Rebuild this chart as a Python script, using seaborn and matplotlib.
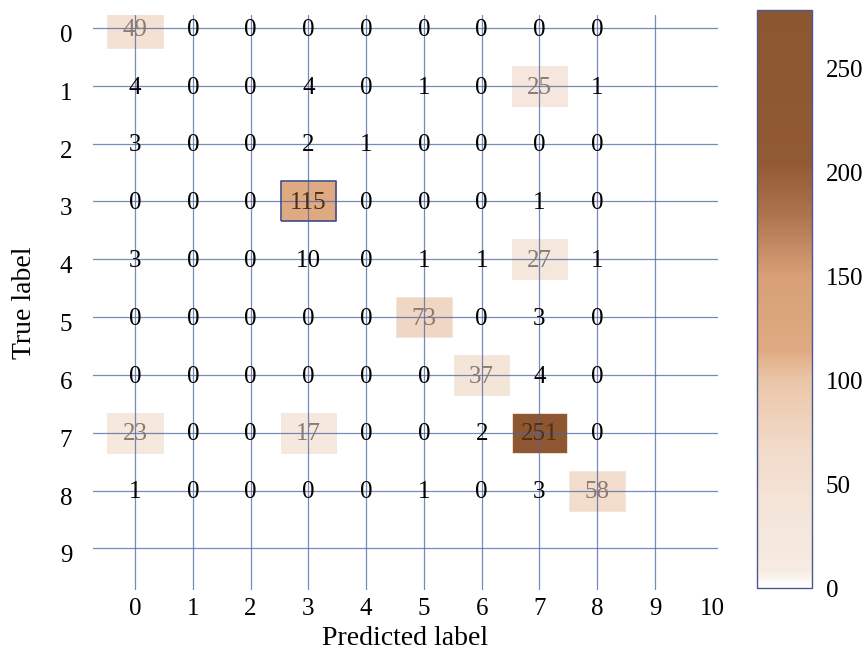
import numpy as np
import pandas as pd
import matplotlib
matplotlib.use("Agg")
import matplotlib.pyplot as plt
import matplotlib.transforms as mtransforms
import seaborn as sns
from matplotlib.colors import LinearSegmentedColormap, Normalize
from matplotlib.cm import ScalarMappable

# ---- data ----
true_labels = [0, 1, 2, 3, 4, 5, 6, 7, 8]
pred_labels = [0, 1, 2, 3, 4, 5, 6, 7, 8]
row0 = [49, 0, 0, 0, 0, 0, 0, 0, 0]
row1 = [4, 0, 0, 4, 0, 1, 0, 25, 1]
row2 = [3, 0, 0, 2, 1, 0, 0, 0, 0]
row3 = [0, 0, 0, 115, 0, 0, 0, 1, 0]
row4 = [3, 0, 0, 10, 0, 1, 1, 27, 1]
row5 = [0, 0, 0, 0, 0, 73, 0, 3, 0]
row6 = [0, 0, 0, 0, 0, 0, 37, 4, 0]
row7 = [23, 0, 0, 17, 0, 0, 2, 251, 0]
row8 = [1, 0, 0, 0, 0, 1, 0, 3, 58]
x_ticks = [0, 1, 2, 3, 4, 5, 6, 7, 8, 9, 10]
y_ticks = [0, 1, 2, 3, 4, 5, 6, 7, 8, 9]
cbar_ticks = [0, 50, 100, 150, 200, 250]
vmax = 278

matrix = np.array([row0, row1, row2, row3, row4, row5, row6, row7, row8])
df = pd.DataFrame([(t, p, matrix[i, j]) for i, t in enumerate(true_labels)
                   for j, p in enumerate(pred_labels)],
                  columns=["true", "pred", "count"])

stops = [(0, "#ffffff"), (8, "#f6ebe2"), (40, "#f4e4d8"), (70, "#f1d9c6"),
         (100, "#ebc6a8"), (115, "#dfa981"), (150, "#d7a077"), (180, "#ab744d"),
         (205, "#915a35"), (vmax, "#8c5631")]
cmap = LinearSegmentedColormap.from_list("brown", [(v / vmax, c) for v, c in stops])
norm = Normalize(0, vmax)

plt.rcParams["font.family"] = ["Liberation Serif", "DejaVu Serif"]
fig = plt.figure(figsize=(8.64, 6.53), dpi=100)
ax = fig.add_axes([0.1076, 0.0965, 0.7234, 0.8806])

boxes = df[df["count"] >= 15]
rect = [(-1, -0.72), (1, -0.72), (1, 0.72), (-1, 0.72), (-1, -0.72)]
sns.scatterplot(data=boxes, x="pred", y="true", hue="count", palette=cmap,
                hue_norm=norm, marker=rect, s=1600, linewidth=0.6,
                edgecolor="#f3e6dc", legend=False, ax=ax, zorder=1)
hl = boxes[boxes["count"] == 115]
sns.scatterplot(data=hl, x="pred", y="true", marker=rect, s=1600,
                facecolor="none", edgecolor="#3e4f86", linewidth=1.2,
                legend=False, ax=ax, zorder=3)

for k in range(10):
    ax.axvline(k, color="#4a64a0", lw=0.9, alpha=0.75, zorder=2)
    ax.axhline(k, color="#4a64a0", lw=0.9, alpha=0.75, zorder=2)

for _, r in df.iterrows():
    v = r["count"]
    if v >= 100:
        col = "#4d2f1a"
    elif v >= 15:
        col = "#8a7a70"
    else:
        col = "black"
    ax.text(r["pred"], r["true"] + 0.03, str(v), ha="center", va="center",
            fontsize=18, color=col, zorder=4)

ax.set_xlim(-0.727, 10.09)
ax.set_ylim(9.72, -0.225)
ax.set_xticks(x_ticks)
ax.set_yticks(y_ticks)
ax.tick_params(length=0, labelsize=18)
ax.tick_params(axis="x", pad=6)
ax.tick_params(axis="y", pad=15)
for s in ax.spines.values():
    s.set_visible(False)
ax.set_xlabel("Predicted label", fontsize=20, labelpad=4)
ax.set_ylabel("True label", fontsize=20, labelpad=16)
shift = mtransforms.ScaledTranslation(0, -4 / 72, fig.dpi_scale_trans)
for lbl in ax.get_yticklabels():
    lbl.set_transform(lbl.get_transform() + shift)

cax = fig.add_axes([0.876, 0.0995, 0.0637, 0.885])
cb = fig.colorbar(ScalarMappable(norm=norm, cmap=cmap), cax=cax, ticks=cbar_ticks)
cb.outline.set_edgecolor("#4a5a90")
cb.outline.set_linewidth(1.0)
cax.tick_params(length=0, labelsize=18, pad=10)

fig.savefig("out.png", dpi=100)
